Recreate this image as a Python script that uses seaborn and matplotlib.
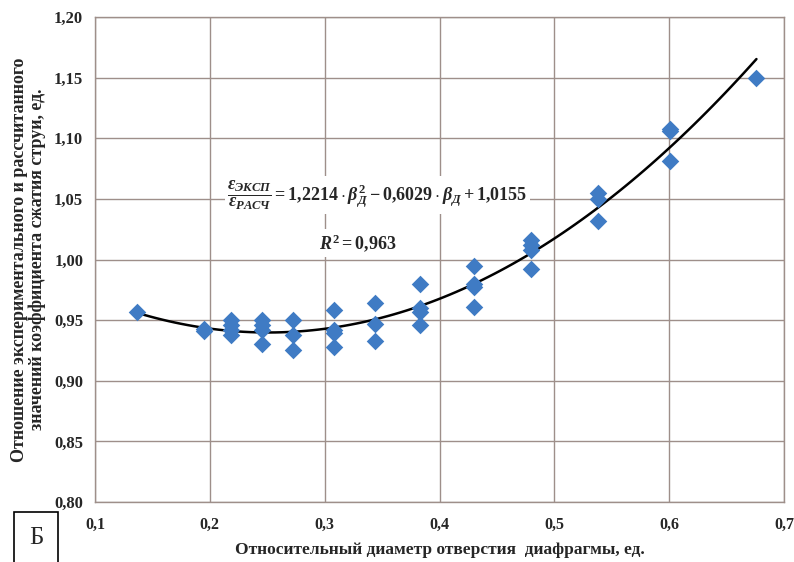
import matplotlib
matplotlib.use("Agg")
import matplotlib.pyplot as plt
import seaborn as sns
import pandas as pd
from matplotlib.ticker import FuncFormatter

# ---- data ----
beta = [0.137,
        0.195, 0.195,
        0.218, 0.218, 0.218, 0.218,
        0.245, 0.245, 0.245, 0.245,
        0.272, 0.272, 0.272,
        0.308, 0.308, 0.308, 0.308,
        0.344, 0.344, 0.344,
        0.383, 0.383, 0.383, 0.383,
        0.430, 0.430, 0.430, 0.430,
        0.480, 0.480, 0.480, 0.480,
        0.538, 0.538, 0.538,
        0.601, 0.601, 0.601,
        0.676]
ratio = [0.957,
         0.943, 0.941,
         0.950, 0.946, 0.942, 0.938,
         0.950, 0.946, 0.942, 0.930,
         0.950, 0.938, 0.925,
         0.958, 0.942, 0.939, 0.928,
         0.964, 0.947, 0.933,
         0.980, 0.960, 0.957, 0.946,
         0.995, 0.980, 0.977, 0.961,
         1.016, 1.012, 1.008, 0.992,
         1.055, 1.050, 1.032,
         1.108, 1.106, 1.081,
         1.150]

x_ticks = [0.1, 0.2, 0.3, 0.4, 0.5, 0.6, 0.7]
y_ticks = [0.80, 0.85, 0.90, 0.95, 1.00, 1.05, 1.10, 1.15, 1.20]

xlabel = "Относительный диаметр отверстия  диафрагмы, ед."
ylabel = "Отношение экспериментального и рассчитанного\nзначений коэффициента сжатия струи, ед."
eq_text = r"$\dfrac{\varepsilon_{ЭКСП}}{\varepsilon_{РАСЧ}} = 1{,}2214\cdot\beta_Д^2 - 0{,}6029\cdot\beta_Д + 1{,}0155$"
r2_text = r"$R^2 = 0{,}963$"
panel = "Б"

df = pd.DataFrame({"beta": beta, "ratio": ratio})

sns.set_theme(style="white")
plt.rcParams["font.family"] = ["Liberation Serif", "DejaVu Serif"]
plt.rcParams["mathtext.fontset"] = "custom"
plt.rcParams["mathtext.rm"] = "Liberation Serif:bold"
plt.rcParams["mathtext.it"] = "Liberation Serif:italic:bold"
plt.rcParams["mathtext.bf"] = "Liberation Serif:bold"

grid_c = "#9e8f8a"
pt_c = "#3f7bc4"

fig = plt.figure(figsize=(7.94, 5.62), dpi=100)
ax = fig.add_axes([95/794, 1 - 502/562, (784-95)/794, (502-17)/562])

sns.regplot(data=df, x="beta", y="ratio", order=2, ci=None, scatter=False,
            truncate=True, line_kws=dict(color="black", lw=1.8, zorder=3), ax=ax)
sns.scatterplot(data=df, x="beta", y="ratio", marker="D", s=80, color=pt_c,
                edgecolor=pt_c, linewidth=0, zorder=4, ax=ax)

ax.set_xlim(0.1, 0.7)
ax.set_ylim(0.80, 1.20)
ax.set_xticks(x_ticks)
ax.set_yticks(y_ticks)
fmt_x = FuncFormatter(lambda v, p: ("%g" % round(v, 2)).replace(".", ","))
fmt_y = FuncFormatter(lambda v, p: ("%.2f" % v).replace(".", ","))
ax.xaxis.set_major_formatter(fmt_x)
ax.yaxis.set_major_formatter(fmt_y)
ax.grid(True, color=grid_c, lw=1.0)
ax.set_axisbelow(True)
for s in ax.spines.values():
    s.set_color(grid_c)
    s.set_linewidth(1.0)
ax.tick_params(axis="both", which="major", length=5, color=grid_c, width=1,
               labelsize=12, direction="out")
ax.tick_params(axis="x", labelsize=11.5, pad=6)
for lab in ax.get_xticklabels() + ax.get_yticklabels():
    lab.set_fontweight("bold")

ax.set_xlabel(xlabel, fontsize=12.5, fontweight="bold", labelpad=6)
ax.set_ylabel(ylabel, fontsize=13, fontweight="bold", labelpad=6, linespacing=1.0)

ax.text(0.2153, 1.053, eq_text, fontsize=13, ha="left", va="center", zorder=5,
        bbox=dict(facecolor="white", edgecolor="none", pad=2))
ax.text(0.295, 1.0136, r2_text, fontsize=13, ha="left", va="center", zorder=5,
        bbox=dict(facecolor="white", edgecolor="none", pad=2))

fig.text(36/794, 1 - 538/562, panel, fontsize=18, ha="center", va="center",
         bbox=dict(facecolor="white", edgecolor="black", lw=1.2,
                   boxstyle="square,pad=0.6"))

fig.savefig("out.png", dpi=100, facecolor="white")
